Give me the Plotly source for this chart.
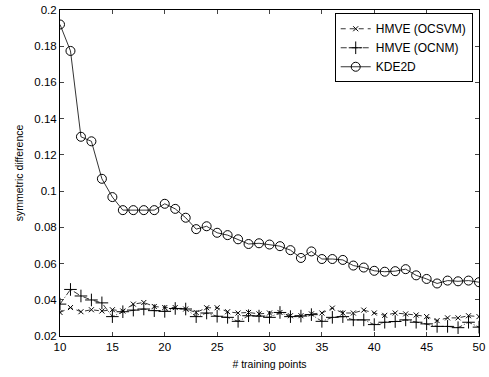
import plotly.graph_objects as go

x_points = list(range(10, 51))

kde2d = [0.192, 0.1774, 0.130, 0.1275, 0.1068, 0.0967, 0.0895, 0.0895, 0.0895, 0.0895,
         0.093, 0.0902, 0.0853, 0.0790, 0.0806, 0.0770, 0.0757, 0.0734, 0.0708, 0.0712,
         0.0705, 0.0696, 0.0674, 0.0631, 0.0667, 0.0625, 0.0625, 0.0620, 0.0589, 0.0578,
         0.0560, 0.0555, 0.0558, 0.0569, 0.0535, 0.0515, 0.0490, 0.0506, 0.0502, 0.0506,
         0.0497]

hmve_ocsvm = [0.0330, 0.0357, 0.0334, 0.0345, 0.0338, 0.0345, 0.0338, 0.0376, 0.0385, 0.0363,
              0.0357, 0.0357, 0.0349, 0.0330, 0.0356, 0.0356, 0.0334, 0.0327, 0.0330, 0.0322,
              0.0327, 0.0330, 0.0312, 0.0312, 0.0322, 0.0327, 0.0354, 0.0327, 0.0327, 0.0343,
              0.0327, 0.0314, 0.0327, 0.0322, 0.0316, 0.0307, 0.0285, 0.0300, 0.0300, 0.0312,
              0.0307]

hmve_ocnm = [0.0376, 0.0457, 0.0421, 0.0399, 0.0383, 0.0307, 0.0334, 0.0343, 0.0349, 0.0340,
             0.0336, 0.0352, 0.0349, 0.0307, 0.0327, 0.0309, 0.0303, 0.0281, 0.0312, 0.0310,
             0.0303, 0.0330, 0.0307, 0.0310, 0.0318, 0.0281, 0.0303, 0.0307, 0.0289, 0.0289,
             0.0263, 0.0276, 0.0280, 0.0289, 0.0276, 0.0267, 0.0253, 0.0253, 0.0246, 0.0276,
             0.0249]

x_tickvals = [10, 15, 20, 25, 30, 35, 40, 45, 50]
y_tickvals = [0.02, 0.04, 0.06, 0.08, 0.1, 0.12, 0.14, 0.16, 0.18, 0.2]
y_ticktext = ["0.02", "0.04", "0.06", "0.08", "0.1", "0.12", "0.14", "0.16", "0.18", "0.2"]

FONT = "Liberation Sans, Arial, sans-serif"

fig = go.Figure()
fig.add_trace(go.Scatter(
    x=x_points, y=hmve_ocsvm, name="HMVE (OCSVM)", mode="lines+markers",
    line=dict(color="black", width=0.8, dash="5px,4px"),
    marker=dict(symbol="x-thin-open", size=5, color="black", line=dict(color="black", width=1)),
))
fig.add_trace(go.Scatter(
    x=x_points, y=hmve_ocnm, name="HMVE (OCNM)", mode="lines+markers",
    line=dict(color="black", width=0.8, dash="6px,2px,1px,2px"),
    marker=dict(symbol="cross-thin-open", size=9, color="black", line=dict(color="black", width=1)),
))
fig.add_trace(go.Scatter(
    x=x_points, y=kde2d, name="KDE2D", mode="lines+markers",
    line=dict(color="black", width=0.8),
    marker=dict(symbol="circle-open", size=9, color="black", line=dict(color="black", width=1)),
))

fig.update_layout(
    width=489, height=377,
    margin=dict(l=60, r=8, t=4, b=41),
    paper_bgcolor="white", plot_bgcolor="white",
    font=dict(family=FONT, size=11, color="black"),
    showlegend=True,
    legend=dict(
        x=0.985, y=0.99, xanchor="right", yanchor="top",
        bordercolor="black", borderwidth=1, bgcolor="white",
        font=dict(family=FONT, size=12, color="black"),
        tracegroupgap=0,
    ),
    xaxis=dict(
        range=[10, 50], tickvals=x_tickvals, ticks="inside", ticklen=4,
        showline=True, linecolor="black", linewidth=1, mirror="ticks",
        showgrid=False, zeroline=False, ticklabeloverflow="allow",
        title=dict(text="# training points", font=dict(size=10.5), standoff=8),
        tickfont=dict(size=11.5),
    ),
    yaxis=dict(
        range=[0.02, 0.2], tickvals=y_tickvals, ticktext=y_ticktext,
        ticks="inside", ticklen=4,
        showline=True, linecolor="black", linewidth=1, mirror="ticks",
        showgrid=False, zeroline=False, ticklabeloverflow="allow",
        title=dict(text="symmetric difference", font=dict(size=10.5), standoff=8),
        tickfont=dict(size=11.5),
    ),
)

fig.write_html("out.html", config={"displayModeBar": False},
               post_script="document.body.style.margin='0';")
